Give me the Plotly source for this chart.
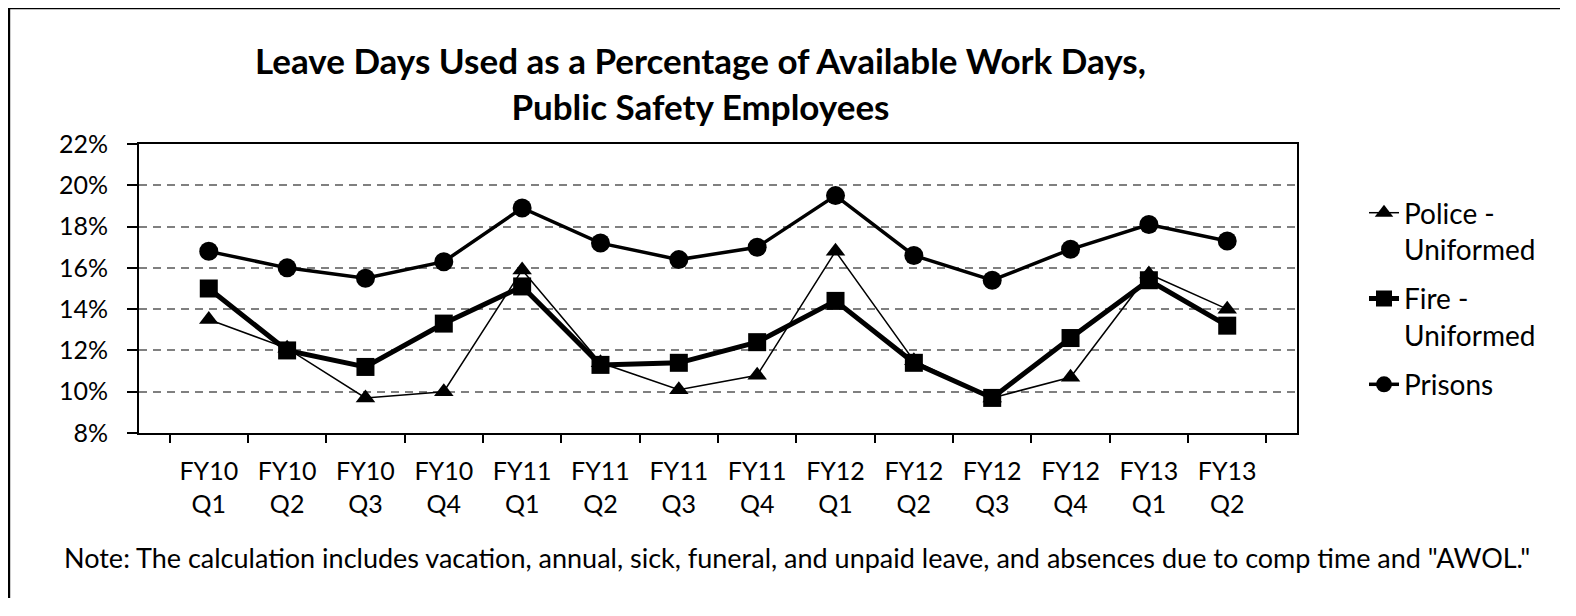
import plotly.graph_objects as go

categories = ["FY10<br>Q1", "FY10<br>Q2", "FY10<br>Q3", "FY10<br>Q4",
              "FY11<br>Q1", "FY11<br>Q2", "FY11<br>Q3", "FY11<br>Q4",
              "FY12<br>Q1", "FY12<br>Q2", "FY12<br>Q3", "FY12<br>Q4",
              "FY13<br>Q1", "FY13<br>Q2"]
police = [13.5, 12.1, 9.7, 10.0, 15.9, 11.4, 10.1, 10.8, 16.8, 11.5, 9.7, 10.7, 15.7, 14.0]
fire = [15.0, 12.0, 11.2, 13.3, 15.1, 11.3, 11.4, 12.4, 14.4, 11.4, 9.7, 12.6, 15.4, 13.2]
prisons = [16.8, 16.0, 15.5, 16.3, 18.9, 17.2, 16.4, 17.0, 19.5, 16.6, 15.4, 16.9, 18.1, 17.3]

OFF = 8  # page body margin
W, H = 1552, 590
L, T = 139 - OFF, 144 - OFF
RIGHT, BOTTOM = 1297 - OFF, 433 - OFF
R, B = W - RIGHT, H - BOTTOM
pw, ph = RIGHT - L, BOTTOM - T


def px(xp):
    return (xp - OFF - L) / pw


def py(yp):
    return (BOTTOM - (yp - OFF)) / ph


FONT = "Lato"

fig = go.Figure()
fig.add_trace(go.Scatter(x=categories, y=police, name="Police -<br>Uniformed",
                         legendgroup="a", mode="lines+markers",
                         line=dict(color="black", width=1.5),
                         marker=dict(symbol="triangle-up", size=17, color="black")))
fig.add_trace(go.Scatter(x=categories, y=fire, name="Fire -<br>Uniformed",
                         legendgroup="b", mode="lines+markers",
                         line=dict(color="black", width=5),
                         marker=dict(symbol="square", size=18, color="black")))
fig.add_trace(go.Scatter(x=categories, y=prisons, name="Prisons",
                         legendgroup="c", mode="lines+markers",
                         line=dict(color="black", width=3.5),
                         marker=dict(symbol="circle", size=19, color="black")))

fx0, fy1 = px(8.7), py(7.8)
fx1, fy0 = px(1700), py(700)
frame_path = f"M {fx0},{fy0} L {fx0},{fy1} L {fx1},{fy1}"

fig.update_layout(
    width=W, height=H,
    margin=dict(l=L, r=R, t=T, b=B, autoexpand=False),
    paper_bgcolor="white", plot_bgcolor="white",
    font=dict(family=FONT, size=25, color="black"),
    showlegend=True,
    legend=dict(x=px(1364), xanchor="left", y=py(188), yanchor="top",
                font=dict(family=FONT, size=28, color="black"),
                bgcolor="rgba(0,0,0,0)", valign="top", tracegroupgap=10,
                traceorder="grouped"),
    xaxis=dict(type="category", showline=True, linecolor="black", linewidth=2,
               mirror=True, ticks="outside", tickson="boundaries", ticklen=8,
               tickwidth=2, tickcolor="black", showgrid=False,
               ticklabelstandoff=15,
               tickfont=dict(family=FONT, size=25, color="black")),
    yaxis=dict(range=[8, 22], dtick=2, ticksuffix="%", showline=True,
               linecolor="black", linewidth=2, mirror=True, ticks="outside",
               ticklen=10, tickwidth=2, tickcolor="black",
               ticklabelstandoff=14,
               showgrid=True, gridcolor="#808080", gridwidth=2, griddash="8px,6px",
               zeroline=False,
               tickfont=dict(family=FONT, size=25, color="black")),
    annotations=[
        dict(text="<b>Leave Days Used as a Percentage of Available Work Days,<br>Public Safety Employees</b>",
             xref="paper", yref="paper", x=px(700), y=py(83), xanchor="center",
             yanchor="middle", showarrow=False,
             font=dict(family=FONT, size=35, color="black")),
        dict(text="Note: The calculation includes vacation, annual, sick, funeral, and unpaid leave, and absences due to comp time and \"AWOL.\"",
             xref="paper", yref="paper", x=px(62), y=py(557), xanchor="left",
             yanchor="middle", showarrow=False,
             font=dict(family=FONT, size=27, color="black")),
    ],
    shapes=[dict(type="path", xref="paper", yref="paper", path=frame_path,
                 line=dict(color="black", width=3))],
)

fig.write_html("out.html")
